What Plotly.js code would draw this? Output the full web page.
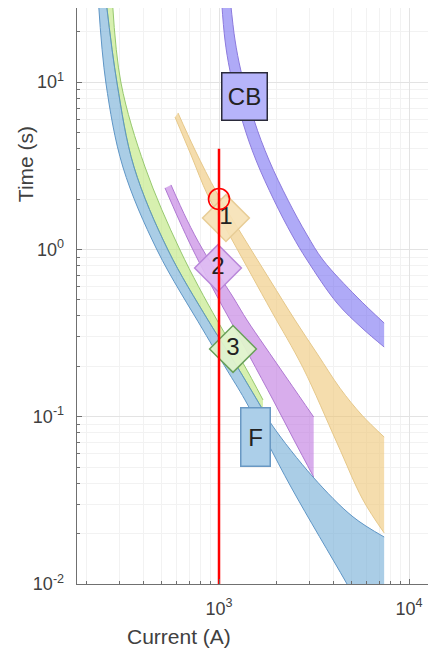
<!DOCTYPE html>
<html><head><meta charset="utf-8">
<script src="https://cdn.plot.ly/plotly-3.0.1.min.js"></script>
<style>html,body{margin:0;padding:0;background:#fff}#chart{width:428px;height:657px}</style>
</head><body><div id="chart"></div>
<script>
// ---- data (current in A, time in s) ----
// Circuit breaker (CB) band
const cbLoI = [1033, 1075, 1143, 1338, 1565, 1947, 2422, 2906, 4180, 5658, 7400];
const cbLoT = [30, 17.85, 11.65, 5.69, 3.42, 1.97, 1.22, 0.864, 0.478, 0.339, 0.261];
const cbHiI = [1150, 1214, 1305, 1528, 1833, 2308, 2906, 3527, 5325, 7400];
const cbHiT = [30, 17.85, 11.65, 5.94, 3.42, 1.97, 1.22, 0.864, 0.519, 0.363];
// Relay 1 band (yellow)
const r1LoI = [586.8, 712.2, 875.1, 1157, 1492, 1900, 2768, 4180, 5727, 7400];
const r1LoT = [6.18, 3.67, 2.09, 1.17, 0.693, 0.422, 0.196, 0.0697, 0.0318, 0.0202];
const r1HiI = [608.5, 747.5, 976, 1322, 1855, 2512, 3319, 4335, 5658, 7400];
const r1HiT = [6.54, 3.93, 2.17, 1.22, 0.656, 0.378, 0.234, 0.148, 0.102, 0.0756];
// Relay 2 band (purple)
const r2LoI = [519.6, 615.9, 729.9, 1000, 1143, 1456, 1925, 2481, 3150];
const r2LoT = [2.33, 1.50, 0.992, 0.498, 0.378, 0.227, 0.126, 0.0726, 0.0436];
const r2HiI = [559, 678.6, 823.8, 1185, 1404, 1725, 2308, 3150];
const r2HiT = [2.43, 1.50, 0.992, 0.519, 0.378, 0.268, 0.166, 0.0996];
// Relay 3 band (green)
const r3LoI = [255, 290.5, 356.9, 538.9, 875, 1214, 1585, 1704];
const r3LoT = [30, 9.88, 3.11, 0.992, 0.378, 0.209, 0.126, 0.110];
const r3HiI = [275, 304.9, 407.9, 623.4, 976, 1338, 1704];
const r3HiT = [30, 9.88, 3.11, 0.992, 0.378, 0.209, 0.126];
// Fuse (F) band (blue)
const fLoI = [232, 254, 312, 472, 824, 1102, 1370, 2393, 4718, 7400];
const fLoT = [30, 9.88, 3.11, 0.992, 0.330, 0.190, 0.126, 0.0380, 0.0100, 0.00403];
const fHiI = [255, 290.5, 356.9, 538.9, 875, 1214, 1585, 1900, 3125, 5073, 7400];
const fHiT = [30, 9.88, 3.11, 0.992, 0.378, 0.209, 0.126, 0.0892, 0.0436, 0.0252, 0.0191];
// fault current marker
const faultI = [1000, 1000];
const faultT = [0.01, 4];
const opPointI = [1000];
const opPointT = [2];
// tick labels
const xTickVals = [100, 1000, 10000];
const xTickText = ['10<sup>2</sup>', '10<sup>3</sup>', '10<sup>4</sup>'];
const yTickVals = [0.01, 0.1, 1, 10];
const yTickText = ['10<sup>-2</sup>', '10<sup>-1</sup>', '10<sup>0</sup>', '10<sup>1</sup>'];

function minorList(d0, d1) {
  const out = [];
  for (let d = d0; d <= d1; d++) for (let k = 2; k <= 9; k++) out.push(k * Math.pow(10, d));
  return out;
}

function band(loI, loT, hiI, hiT, fill, edge) {
  return [
    {x: loI, y: loT, mode: 'lines', line: {color: edge, width: 1, shape: 'spline'}, hoverinfo: 'skip', showlegend: false},
    {x: hiI, y: hiT, mode: 'lines', line: {color: edge, width: 1, shape: 'spline'}, fill: 'tonexty', fillcolor: fill, hoverinfo: 'skip', showlegend: false}
  ];
}

const traces = [].concat(
  band(cbLoI, cbLoT, cbHiI, cbHiT, 'rgba(95,85,239,0.5)', 'rgb(140,122,222)'),
  band(r1LoI, r1LoT, r1HiI, r1HiT, 'rgba(238,197,113,0.58)', 'rgb(230,200,138)'),
  band(r2LoI, r2LoT, r2HiI, r2HiT, 'rgba(188,113,222,0.58)', 'rgb(175,120,210)'),
  band(r3LoI, r3LoT, r3HiI, r3HiT, 'rgba(188,230,122,0.6)', 'rgb(150,200,110)'),
  band(fLoI, fLoT, fHiI, fHiT, 'rgba(113,172,213,0.6)', 'rgb(95,150,198)')
);

const labFont = {family: 'Liberation Sans, Arial, sans-serif', size: 24, color: '#222'};
function diamond(I, T, txt, fill, edge) {
  return {x: [I], y: [T], mode: 'markers+text', text: [txt], textposition: 'middle center',
    textfont: labFont, marker: {symbol: 'diamond', size: 36, color: fill, line: {color: edge, width: 1.5}},
    hoverinfo: 'skip', showlegend: false, cliponaxis: false};
}
traces.push(diamond(1088, 1.54, '1', 'rgba(246,226,182,0.92)', 'rgb(232,205,150)'));
traces.push(diamond(988, 0.774, '2', 'rgba(222,188,242,0.92)', 'rgb(185,135,218)'));
traces.push(diamond(1185, 0.254, '3', 'rgba(224,243,204,0.95)', 'rgb(105,160,90)'));

traces.push({x: faultI, y: faultT, mode: 'lines', line: {color: '#ff0000', width: 2.5}, hoverinfo: 'skip', showlegend: false});
traces.push({x: opPointI, y: opPointT, mode: 'markers', marker: {symbol: 'circle-open', size: 21, color: '#ff0000', line: {color: '#ff0000', width: 1.6}}, hoverinfo: 'skip', showlegend: false});

const tickFont = {family: 'Liberation Sans, Arial, sans-serif', size: 18, color: '#404040'};
const axisCommon = {
  type: 'log', showline: true, linecolor: '#707070', linewidth: 1.3, mirror: false,
  ticks: 'inside', ticklen: 5, tickwidth: 1, tickcolor: '#707070',
  showgrid: true, gridcolor: '#e3e3e3', gridwidth: 1, zeroline: false,
  tickmode: 'array', tickfont: tickFont, fixedrange: true
};

const layout = {
  width: 428, height: 657,
  margin: {l: 77, r: 0, t: 8, b: 73},
  paper_bgcolor: '#fff', plot_bgcolor: '#fff',
  showlegend: false,
  xaxis: Object.assign({}, axisCommon, {
    range: [2.2526, 4.1], tickvals: xTickVals, ticktext: xTickText, ticklabelstandoff: 8,
    minor: {tickmode: 'array', tickvals: minorList(2, 4), ticks: 'inside', ticklen: 3, tickcolor: '#707070', showgrid: true, gridcolor: '#f2f2f2'}
  }),
  yaxis: Object.assign({}, axisCommon, {
    range: [-2, 1.443], tickvals: yTickVals, ticktext: yTickText, ticklabelstandoff: 8,
    minor: {tickmode: 'array', tickvals: minorList(-2, 1), ticks: 'inside', ticklen: 3, tickcolor: '#707070', showgrid: true, gridcolor: '#f2f2f2'}
  }),
  annotations: [
    {x: Math.log10(1370), y: Math.log10(8.26), xref: 'x', yref: 'y', text: 'CB', showarrow: false,
      font: labFont, bgcolor: 'rgb(182,180,250)', bordercolor: '#2a2a3a', borderwidth: 1.5, borderpad: 0,
      width: 44, height: 46, xanchor: 'center', yanchor: 'middle'},
    {x: Math.log10(1556), y: Math.log10(0.0756), xref: 'x', yref: 'y', text: 'F', showarrow: false,
      font: labFont, bgcolor: 'rgb(172,207,233)', bordercolor: 'rgb(105,152,195)', borderwidth: 1.5, borderpad: 0,
      width: 28, height: 57, xanchor: 'center', yanchor: 'middle'},
    {x: -0.148, y: 0.729, xref: 'paper', yref: 'paper', text: 'Time (s)', showarrow: false, textangle: -90,
      font: {family: 'Liberation Sans, Arial, sans-serif', size: 21, color: '#404040'}, xanchor: 'center', yanchor: 'middle'},
    {x: 0.2906, y: -0.092, xref: 'paper', yref: 'paper', text: 'Current (A)', showarrow: false,
      font: {family: 'Liberation Sans, Arial, sans-serif', size: 21, color: '#404040'}, xanchor: 'center', yanchor: 'middle'}
  ]
};

Plotly.newPlot('chart', traces, layout, {staticPlot: true, displayModeBar: false});
</script></body></html>
